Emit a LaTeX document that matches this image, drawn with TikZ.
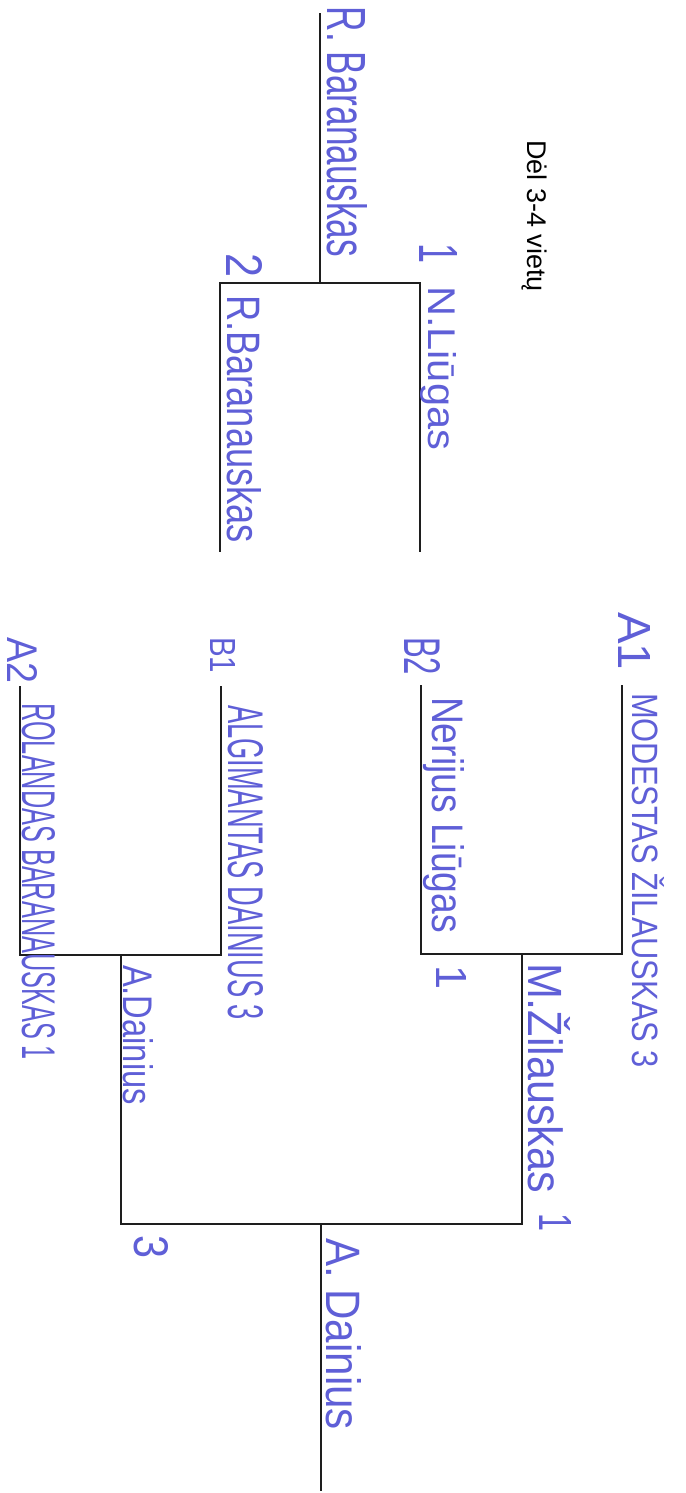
\documentclass[tikz,border=0pt]{standalone}
\usepackage{fontspec}
\setmainfont{Liberation Sans}
\newfontfamily\handfont{Liberation Sans}
\usepackage{graphicx}
\definecolor{ink}{RGB}{95,95,215}
\definecolor{rule}{RGB}{30,30,30}
\newcommand{\hw}[3]{\resizebox{#1pt}{#2pt}{\handfont #3}}
\tikzset{
  bline/.style={draw=rule, line width=2.6pt, line cap=rect, line join=miter},
  hand/.style={text=ink, rotate=-90, anchor=base west, inner sep=0pt, outer sep=0pt},
  title/.style={text=black, rotate=-90, anchor=base west, inner sep=0pt, font=\fontsize{27}{30}\selectfont}
}
\begin{document}
\begin{tikzpicture}[x=1pt,y=-1pt]
\useasboundingbox (0,0) rectangle (685,1493);
% --- bracket for 3-4 place ---
\coordinate (t1) at (420,551);
\coordinate (t1j) at (420,283);
\coordinate (t2) at (220,551);
\coordinate (t2j) at (220,283);
\coordinate (tm) at (320,283);
\coordinate (tw) at (320,14);
\draw[bline] (t1) -- (t1j) -- (t2j) -- (t2);
\draw[bline] (tm) -- (tw);
% --- main bracket ---
\coordinate (a1) at (622,686);
\coordinate (a1j) at (622,954);
\coordinate (b2) at (421,686);
\coordinate (b2j) at (421,954);
\coordinate (m1) at (522,954);
\coordinate (m1j) at (522,1224);
\coordinate (b1) at (221,687);
\coordinate (b1j) at (221,955);
\coordinate (a2) at (20,687);
\coordinate (a2j) at (20,955);
\coordinate (m2) at (121,955);
\coordinate (m2j) at (121,1224);
\coordinate (fm) at (321,1224);
\coordinate (fw) at (321,1490);
\draw[bline] (a1) -- (a1j) -- (b2j) -- (b2);
\draw[bline] (m1) -- (m1j);
\draw[bline] (b1) -- (b1j) -- (a2j) -- (a2);
\draw[bline] (m2) -- (m2j);
\draw[bline] (m1j) -- (m2j);
\draw[bline] (fm) -- (fw);
% --- title ---
\node[title] (ttl) at (527,140) {Dėl 3-4 vietų};
% --- handwritten labels ---
\node[hand] (w34) at (327,7) {\hw{250}{40}{R. Baranauskas}};
\node[hand] (s1) at (419,243) {\hw{20}{38}{1}};
\node[hand] (nl) at (428,286) {\hw{164}{28}{N.Liūgas}};
\node[hand] (s2) at (226,253) {\hw{24}{36}{2}};
\node[hand] (rb) at (227,295) {\hw{248}{34}{R.Baranauskas}};
\node[hand] (la1) at (618,612) {\hw{58}{32}{A1}};
\node[hand] (mz) at (632,693) {\hw{375}{32}{MODESTAS ŽILAUSKAS 3}};
\node[hand] (lb2) at (404,637) {\hw{38}{36}{B2}};
\node[hand] (nrl) at (432,697) {\hw{236}{32}{Nerijus Liūgas}};
\node[hand] (s3) at (436,965) {\hw{24}{30}{1}};
\node[hand] (mzl) at (528,963) {\hw{230}{42}{M.Žilauskas}};
\node[hand] (s4) at (539,1213) {\hw{18}{32}{1}};
\node[hand] (lb1) at (210,637) {\hw{36}{25}{B1}};
\node[hand] (ad) at (228,705) {\hw{315}{35}{ALGIMANTAS DAINIUS 3}};
\node[hand] (la2) at (7,637) {\hw{46}{30}{A2}};
\node[hand] (rbr) at (22,703) {\hw{357}{33}{ROLANDAS BARANAUSKAS 1}};
\node[hand] (adn) at (123,965) {\hw{140}{30}{A.Dainius}};
\node[hand] (s5) at (134,1235) {\hw{23}{34}{3}};
\node[hand] (adw) at (326,1238) {\hw{192}{35}{A. Dainius}};
\end{tikzpicture}
\end{document}
